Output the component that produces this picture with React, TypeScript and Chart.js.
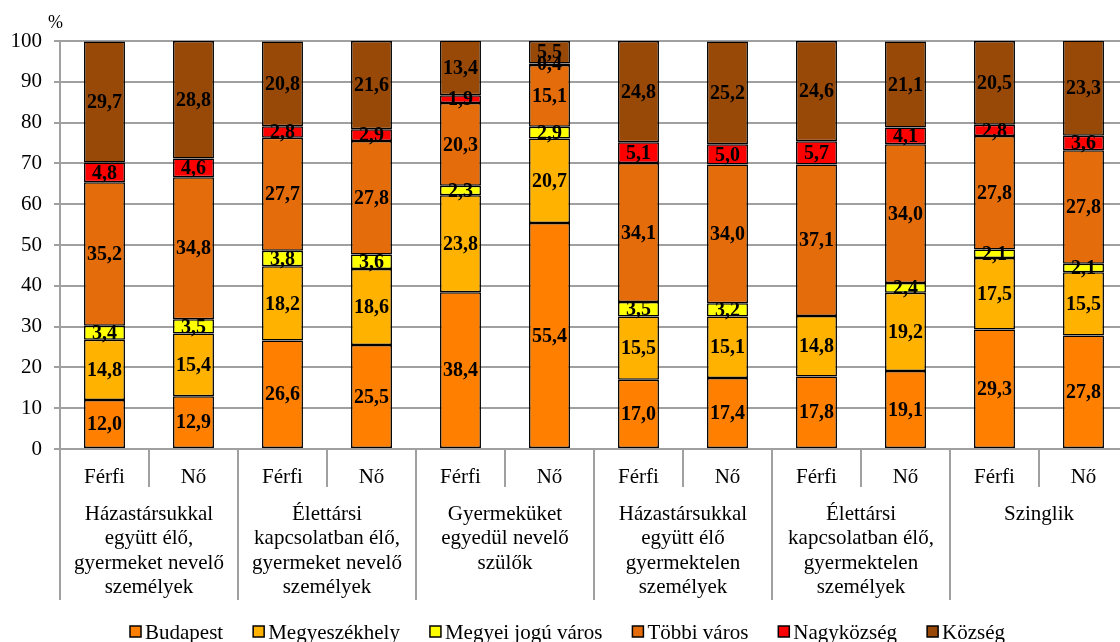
import React, { useEffect, useRef } from "react";
import { Chart, registerables } from "chart.js";

Chart.register(...registerables);

const categories = ["Férfi", "Nő", "Férfi", "Nő", "Férfi", "Nő", "Férfi", "Nő", "Férfi", "Nő", "Férfi", "Nő"];

const groupLabels: string[][] = [
  ["Házastársukkal", "együtt élő,", "gyermeket nevelő", "személyek"],
  ["Élettársi", "kapcsolatban élő,", "gyermeket nevelő", "személyek"],
  ["Gyermeküket", "egyedül nevelő", "szülők"],
  ["Házastársukkal", "együtt élő", "gyermektelen", "személyek"],
  ["Élettársi", "kapcsolatban élő,", "gyermektelen", "személyek"],
  ["Szinglik"],
];

const seriesNames = ["Budapest", "Megyeszékhely", "Megyei jogú város", "Többi város", "Nagyközség", "Község"];
const seriesColors = ["#FF8000", "#FFB300", "#FFFF00", "#E46C0A", "#FF0000", "#984807"];

const budapest = [12.0, 12.9, 26.6, 25.5, 38.4, 55.4, 17.0, 17.4, 17.8, 19.1, 29.3, 27.8];
const megyeszekhely = [14.8, 15.4, 18.2, 18.6, 23.8, 20.7, 15.5, 15.1, 14.8, 19.2, 17.5, 15.5];
const megyeiJoguVaros = [3.4, 3.5, 3.8, 3.6, 2.3, 2.9, 3.5, 3.2, null, 2.4, 2.1, 2.1];
const tobbiVaros = [35.2, 34.8, 27.7, 27.8, 20.3, 15.1, 34.1, 34.0, 37.1, 34.0, 27.8, 27.8];
const nagykozseg = [4.8, 4.6, 2.8, 2.9, 1.9, 0.4, 5.1, 5.0, 5.7, 4.1, 2.8, 3.6];
const kozseg = [29.7, 28.8, 20.8, 21.6, 13.4, 5.5, 24.8, 25.2, 24.6, 21.1, 20.5, 23.3];

const seriesValues = [budapest, megyeszekhely, megyeiJoguVaros, tobbiVaros, nagykozseg, kozseg];

const FONT = "'Liberation Serif', 'Times New Roman', serif";
const GRID = "#A0A0A0";

const fmt = (v: number) => v.toFixed(1).replace(".", ",");

const labelsPlugin = {
  id: "segLabels",
  afterDatasetsDraw(chart: any) {
    const ctx = chart.ctx;
    ctx.save();
    ctx.font = `bold 20px ${FONT}`;
    ctx.fillStyle = "#000";
    ctx.textAlign = "center";
    ctx.textBaseline = "middle";
    chart.data.datasets.forEach((ds: any, di: number) => {
      const meta = chart.getDatasetMeta(di);
      meta.data.forEach((bar: any, i: number) => {
        const v = ds.data[i];
        if (v == null || v <= 0) return;
        const y = (bar.y + bar.base) / 2;
        ctx.fillText(fmt(v), bar.x, y + 1);
      });
    });
    ctx.restore();
  },
};

const decorPlugin = {
  id: "decor",
  afterDraw(chart: any) {
    const ctx = chart.ctx;
    const xs = chart.scales.x;
    const area = chart.chartArea;
    const n = categories.length;
    const px = (i: number) => xs.getPixelForValue(i);
    const step = px(1) - px(0);
    ctx.save();
    // separators
    ctx.strokeStyle = GRID;
    ctx.lineWidth = 2;
    for (let k = 0; k <= n; k++) {
      const x = k === 0 ? area.left : px(k) - step / 2;
      const yEnd = k % 2 === 0 ? 600 : 487;
      ctx.beginPath();
      ctx.moveTo(x, area.bottom);
      ctx.lineTo(x, yEnd);
      ctx.stroke();
    }
    // group labels
    ctx.fillStyle = "#000";
    ctx.font = `21px ${FONT}`;
    ctx.textAlign = "center";
    ctx.textBaseline = "middle";
    groupLabels.forEach((lines, g) => {
      const cx = (px(2 * g) + px(2 * g + 1)) / 2;
      lines.forEach((line, li) => {
        ctx.fillText(line, cx, 514 + li * 24.5);
      });
    });
    // percent sign
    ctx.font = `18px ${FONT}`;
    ctx.textAlign = "left";
    ctx.fillText("%", 48, 23);
    // legend
    ctx.font = `21px ${FONT}`;
    let x = 130;
    const ly = 632;
    seriesNames.forEach((name, i) => {
      ctx.fillStyle = seriesColors[i];
      ctx.fillRect(x, ly - 6, 11, 11);
      ctx.strokeStyle = "#000";
      ctx.lineWidth = 1.5;
      ctx.strokeRect(x, ly - 6, 11, 11);
      ctx.fillStyle = "#000";
      ctx.textAlign = "left";
      ctx.fillText(name, x + 15, ly + 1);
      x += 15 + ctx.measureText(name).width + 30;
    });
    ctx.restore();
  },
};

export default function App() {
  const ref = useRef<HTMLCanvasElement | null>(null);
  useEffect(() => {
    if (!ref.current) return;
    const chart = new Chart(ref.current, {
      type: "bar",
      data: {
        labels: categories,
        datasets: seriesValues.map((vals, i) => ({
          label: seriesNames[i],
          data: vals as any,
          backgroundColor: seriesColors[i],
          borderColor: "#000",
          borderWidth: 1.5,
          borderSkipped: false,
          barPercentage: 0.46,
          categoryPercentage: 1,
        })),
      },
      options: {
        responsive: false,
        animation: false,
        layout: { padding: { top: 41, right: 0, left: 0, bottom: 0 } },
        plugins: { legend: { display: false }, tooltip: { enabled: false } },
        scales: {
          x: {
            stacked: true,
            grid: { display: false },
            border: { display: false },
            ticks: { font: { family: FONT, size: 21 }, color: "#000", padding: 8, maxRotation: 0 },
            afterFit: (s: any) => {
              s.height = 193;
            },
          },
          y: {
            stacked: true,
            min: 0,
            max: 100,
            grid: { color: GRID, lineWidth: 2, tickLength: 6 },
            border: { color: GRID, width: 2 },
            ticks: { stepSize: 10, font: { family: FONT, size: 21 }, color: "#000", padding: 12 },
            afterFit: (s: any) => {
              s.width = 60;
            },
          },
        },
      },
      plugins: [labelsPlugin, decorPlugin],
    });
    return () => chart.destroy();
  }, []);
  return (
    <div style={{ position: "absolute", left: 0, top: 0, width: 1128, height: 642, background: "#fff" }}>
      <canvas ref={ref} width={1128} height={642} />
    </div>
  );
}
